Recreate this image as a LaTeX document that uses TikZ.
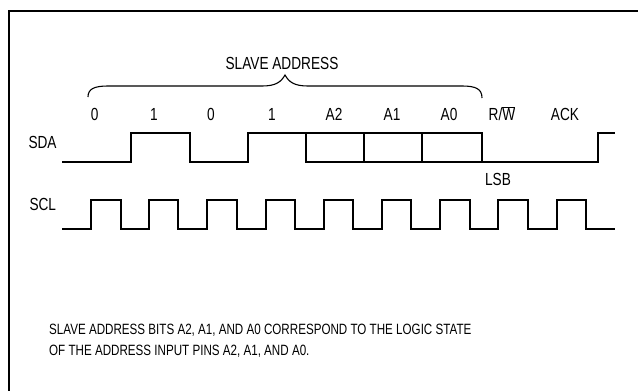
\documentclass[tikz,border=0pt]{standalone}
\usepackage{fontspec}
\setmainfont{Liberation Sans}[FakeStretch=0.78]
\begin{document}
\begin{tikzpicture}[x=1pt,y=-1pt,
  wave/.style={line width=1.2pt, line join=miter},
  frame/.style={line width=2pt},
  lbl/.style={inner sep=0pt, font=\fontsize{17.5}{20}\selectfont},
  note/.style={inner sep=0pt, align=left, font=\fontsize{14.9}{21}\selectfont}]
\useasboundingbox (0,0) rectangle (638,391);
\draw[frame] (9,400) -- (9,11) -- (650,11);
% labels
\node[lbl, anchor=base] (sa) at (282,69.3) {SLAVE ADDRESS};
\node[lbl, anchor=base] (b7) at (94.7,120.7) {0};
\node[lbl, anchor=base] (b6) at (154,120.7) {1};
\node[lbl, anchor=base] (b5) at (211,120.7) {0};
\node[lbl, anchor=base] (b4) at (272,120.7) {1};
\node[lbl, anchor=base] (b3) at (334,120.7) {A2};
\node[lbl, anchor=base] (b2) at (392,120.7) {A1};
\node[lbl, anchor=base] (b1) at (449,120.7) {A0};
\node[lbl, anchor=base] (rw) at (502,120.7) {R/$\overline{\hbox{W}}$};
\node[lbl, anchor=base] (ack) at (565,120.7) {ACK};
\node[lbl, anchor=base west] (sda) at (28.3,148.3) {SDA};
\node[lbl, anchor=base west] (scl) at (29.3,210) {SCL};
\node[lbl, anchor=base] (lsb) at (498,185) {LSB};
\node[note, anchor=base west] (txt) at (49,355) {SLAVE ADDRESS BITS A2, A1, AND A0 CORRESPOND TO THE LOGIC STATE\\OF THE ADDRESS INPUT PINS A2, A1, AND A0.};
% brace
\draw[line width=1.1pt] (88,97) .. controls (88,89) and (94,86) .. (108,86) -- (262,86)
  .. controls (276,86) and (281,82) .. (285,75)
  .. controls (289,82) and (294,86) .. (308,86) -- (462,86)
  .. controls (476,86) and (482,89) .. (482,98);
% SDA
\draw[wave] (62,162) -- (131,162) -- (131,133) -- (190,133) -- (190,162) -- (248,162)
  -- (248,133) -- (482,133) -- (482,162) -- (598,162) -- (598,133) -- (615,133);
\draw[wave] (306,133) -- (306,162) -- (482,162);
\draw[wave] (364,133) -- (364,162);
\draw[wave] (422,133) -- (422,162);
% SCL
\draw[wave] (62,229)
  -- (91,229) -- (91,200) -- (121,200) -- (121,229)
  -- (149,229) -- (149,200) -- (178,200) -- (178,229)
  -- (207,229) -- (207,200) -- (237,200) -- (237,229)
  -- (266,229) -- (266,200) -- (295,200) -- (295,229)
  -- (324,229) -- (324,200) -- (353,200) -- (353,229)
  -- (382,229) -- (382,200) -- (411,200) -- (411,229)
  -- (440,229) -- (440,200) -- (470,200) -- (470,229)
  -- (498,229) -- (498,200) -- (528,200) -- (528,229)
  -- (557,229) -- (557,200) -- (586,200) -- (586,229)
  -- (615,229);
\end{tikzpicture}
\end{document}
